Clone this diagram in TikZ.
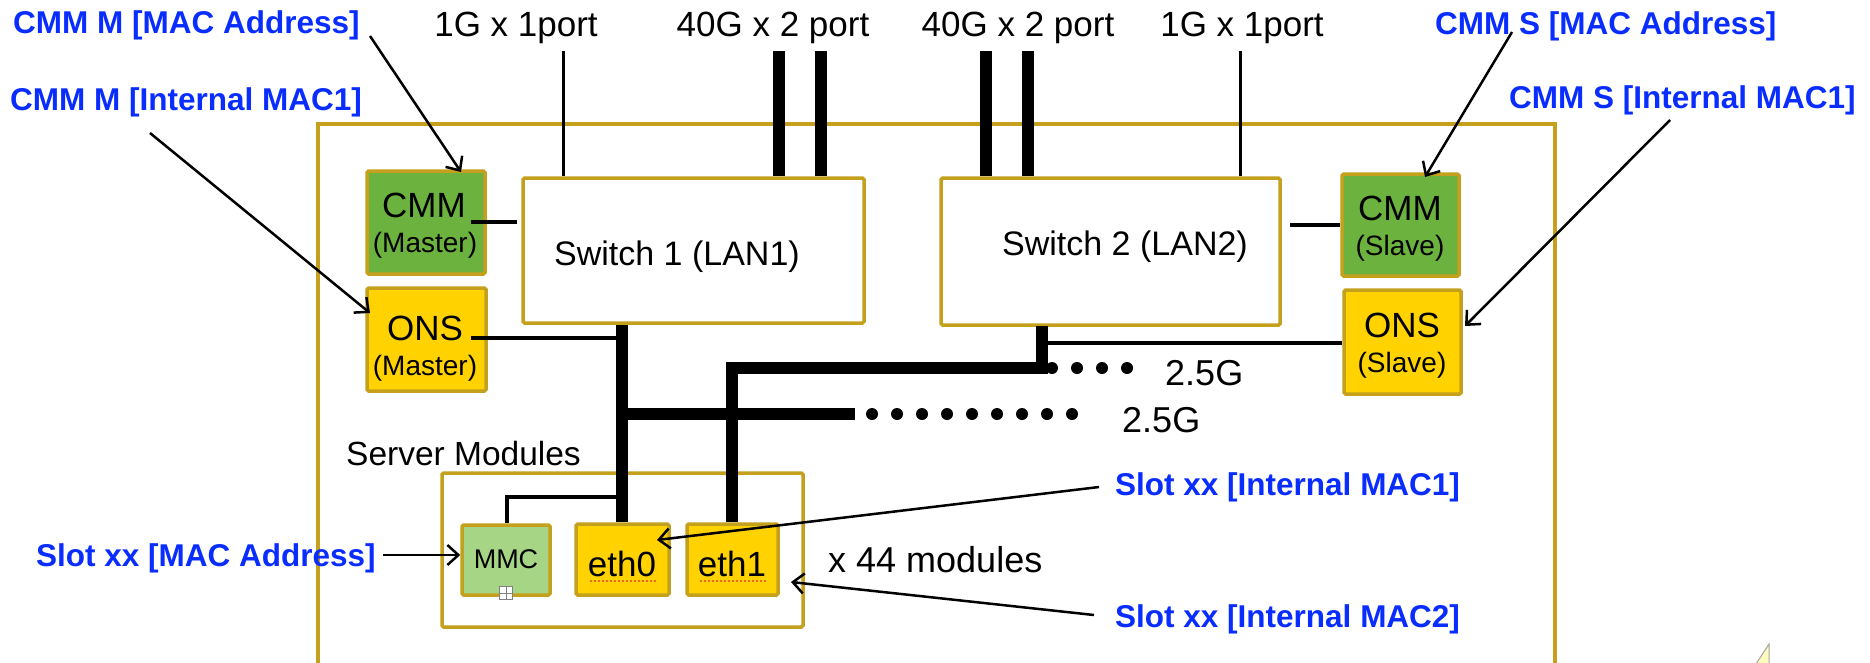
\documentclass[tikz,border=0pt]{standalone}
\usepackage{fontspec}
\setmainfont{Liberation Sans}
\usetikzlibrary{arrows.meta}
\definecolor{gold}{RGB}{196,160,28}
\definecolor{cmmgreen}{RGB}{108,178,62}
\definecolor{onsyellow}{RGB}{255,210,0}
\definecolor{mmcgreen}{RGB}{166,214,133}
\definecolor{lblue}{RGB}{10,45,255}
\definecolor{squig}{RGB}{240,100,40}
\definecolor{tricol}{RGB}{255,250,190}
\newcommand\myfs[1]{\fontsize{#1}{#1}\selectfont}
\tikzset{
  box/.style={draw=gold, line width=3.5pt, inner sep=0pt, rounded corners=1.5pt},
  txt/.style={inner sep=0pt, anchor=base},
  bluelbl/.style={inner sep=0pt, anchor=base west, text=lblue, font=\bfseries\myfs{31.5}},
  wire/.style={line width=3.5pt},
  trunk/.style={line width=12pt},
  callout/.style={line width=2.5pt, -{Straight Barb[length=11pt,width=20pt,line width=2.5pt]}},
  dot/.style={fill=black, circle, inner sep=0pt, minimum size=12pt},
}
\begin{document}
\begin{tikzpicture}[x=1pt,y=-1pt]
\useasboundingbox (0,0) rectangle (1870,662);
\fill[white] (0,0) rectangle (1870,662);
\begin{scope}
\clip (0,0) rectangle (1870,662);
% chassis
\draw[gold, line width=3.5pt] (318,124) rectangle (1555,666);
% triangle mark
\filldraw[fill=tricol, draw=gray!70, line width=1pt] (1769,644) -- (1769,670) -- (1752,670) -- cycle;
\end{scope}

% boxes
\node[box, fill=cmmgreen, minimum width=118, minimum height=103] (cmmM) at (426,222.5) {};
\node[box, fill=onsyellow, minimum width=119, minimum height=103] (onsM) at (426.5,339.5) {};
\node[box, fill=white, minimum width=341, minimum height=145] (sw1) at (693.5,250.5) {};
\node[box, fill=white, minimum width=339, minimum height=147] (sw2) at (1110.5,251.5) {};
\node[box, fill=cmmgreen, minimum width=117, minimum height=102] (cmmS) at (1400.5,225) {};
\node[box, fill=onsyellow, minimum width=117, minimum height=104] (onsS) at (1402.5,342) {};
\node[box, fill=white, minimum width=361, minimum height=154] (srv) at (622.5,550) {};
\node[box, fill=mmcgreen, minimum width=88, minimum height=70] (mmc) at (506,560) {};
\node[box, fill=onsyellow, minimum width=93, minimum height=71] (eth0) at (622.5,559.5) {};
\node[box, fill=onsyellow, minimum width=91, minimum height=71] (eth1) at (732.5,559.5) {};

% box texts
\node[txt, font=\myfs{35}] (cmmMt) at (424,217) {CMM};
\node[txt, font=\myfs{28}] (cmmMs) at (425,252) {(Master)};
\node[txt, font=\myfs{35}] (onsMt) at (425,340) {ONS};
\node[txt, font=\myfs{28}] (onsMs) at (425,375) {(Master)};
\node[txt, font=\myfs{35}] (cmmSt) at (1400,220) {CMM};
\node[txt, font=\myfs{28}] (cmmSs) at (1400,255) {(Slave)};
\node[txt, font=\myfs{35}] (onsSt) at (1402,337) {ONS};
\node[txt, font=\myfs{28}] (onsSs) at (1402,372) {(Slave)};
\node[txt, font=\myfs{34}] (sw1t) at (677,265) {Switch 1 (LAN1)};
\node[txt, font=\myfs{34}] (sw2t) at (1125,255) {Switch 2 (LAN2)};
\node[txt, font=\myfs{27}] (mmct) at (506,568) {MMC};
\node[txt, font=\myfs{35}] (eth0t) at (622,576) {eth0};
\node[txt, font=\myfs{35}] (eth1t) at (732,576) {eth1};

% port labels and port lines
\node[txt, font=\myfs{35}] (p1) at (516,36) {1G x 1port};
\node[txt, font=\myfs{35}] (p2) at (773,36) {40G x 2 port};
\node[txt, font=\myfs{35}] (p3) at (1018,36) {40G x 2 port};
\node[txt, font=\myfs{35}] (p4) at (1242,36) {1G x 1port};
\coordinate (p1a) at (563,51);
\coordinate (p2a) at (779,51);
\coordinate (p2b) at (821,51);
\coordinate (p3a) at (986,51);
\coordinate (p3b) at (1028,51);
\coordinate (p4a) at (1240,51);
\draw[line width=3pt] (p1a) -- (p1a |- sw1.north);
\draw[trunk] (p2a) -- (p2a |- sw1.north);
\draw[trunk] (p2b) -- (p2b |- sw1.north);
\draw[trunk] (p3a) -- (p3a |- sw2.north);
\draw[trunk] (p3b) -- (p3b |- sw2.north);
\draw[line width=3pt] (p4a) -- (p4a |- sw2.north);

% CMM to switches
\draw[wire] (471,222) -- (517,222);
\draw[wire] (1290,225) -- (cmmS.west |- 0,225);

% trunks
\coordinate (j1) at (622,338);
\coordinate (j2) at (1042,343);
\coordinate (up) at (732,368);
\coordinate (lo) at (622,414);
\draw[trunk] (622,325) -- (eth0.north -| 622,0);
\draw[wire] (471,338) -- (j1);
\draw[trunk, line join=miter] (1042,326) |- (up) -- (eth1.north -| up);
\draw[wire] (j2) -- (onsS.west |- j2);
\draw[trunk] (lo) -- (855,414);
\draw[wire] (mmc.north -| 507,0) |- (622,497);

% dots
\foreach \k in {0,...,8} \node[dot] at (872+25*\k,414) {};
\foreach \k in {0,...,3} \node[dot] at (1052+25*\k,368) {};
\node[inner sep=0pt, anchor=base west, font=\myfs{36}] (g1) at (1165,385) {2.5G};
\node[inner sep=0pt, anchor=base west, font=\myfs{36}] (g2) at (1122,432) {2.5G};

% server module texts
\node[inner sep=0pt, anchor=base west, font=\myfs{33.5}] (srvt) at (346,465) {Server Modules};
\node[inner sep=0pt, anchor=base west, font=\myfs{36}] (x44) at (828,572) {x 44 modules};

% spell-check squiggles
\draw[squig, line width=1.5pt, dash pattern=on 2pt off 2pt] (590,581) -- (656,581);
\draw[squig, line width=1.5pt, dash pattern=on 2pt off 2pt] (700,581) -- (766,581);

% expand icon
\node[draw=gray, fill=white, line width=1pt, minimum size=13pt, inner sep=0pt] (icon) at (506,593) {};
\draw[gray, line width=1pt] (icon.north) -- (icon.south) (icon.west) -- (icon.east);

% blue labels
\node[bluelbl] (lMmac) at (13,33) {CMM M [MAC Address]};
\node[bluelbl] (lMint) at (10,110) {CMM M [Internal MAC1]};
\node[bluelbl] (lSmac) at (1435,34) {CMM S [MAC Address]};
\node[bluelbl] (lSint) at (1509,108) {CMM S [Internal MAC1]};
\node[bluelbl] (lSlotMac) at (36,566) {Slot xx [MAC Address]};
\node[bluelbl] (lSlot1) at (1115,495) {Slot xx [Internal MAC1]};
\node[bluelbl] (lSlot2) at (1115,627) {Slot xx [Internal MAC2]};

% callouts
\draw[callout] (370,36) -- (461,172);
\draw[callout] (150,133) -- (370,313);
\draw[callout] (1512,32) -- (1425,177);
\draw[callout] (1670,120) -- (1465,326);
\draw[callout] (383,555) -- (mmc.west |- 0,555);
\draw[callout] (1099,487) -- (657,540);
\draw[callout] (1094,615) -- (791,582);
\end{tikzpicture}
\end{document}
